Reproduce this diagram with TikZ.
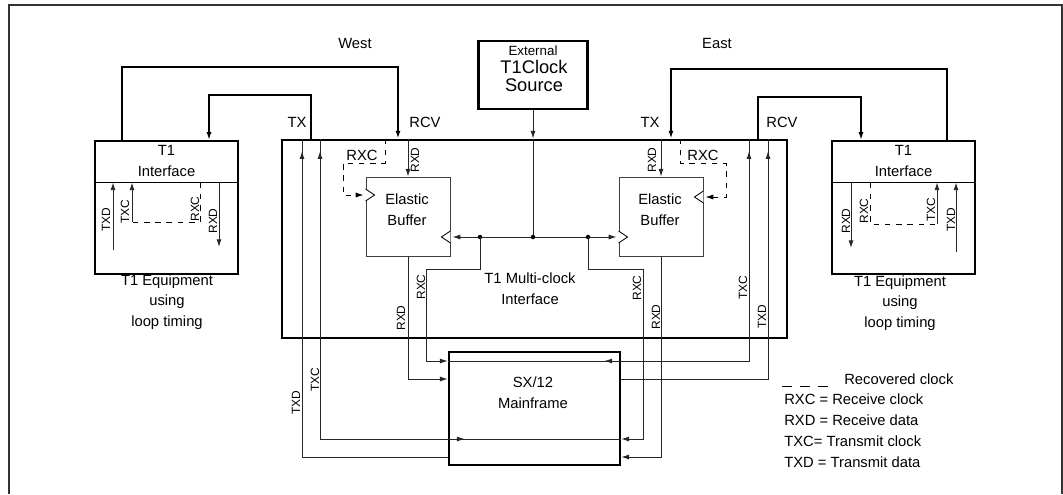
\documentclass[tikz,border=0pt]{standalone}
\usepackage{fontspec}
\setmainfont{Liberation Sans}
\usetikzlibrary{arrows.meta,decorations.markings}
\tikzset{
  lbl/.style={font=\fontsize{10.5}{14.8}\selectfont,align=center,inner sep=0pt},
  sig/.style={font=\fontsize{8.5}{10}\selectfont,rotate=90,inner sep=0pt},
  eqbox/.style={draw,line width=1.5pt,minimum width=3.575cm,minimum height=3.325cm,inner sep=0pt},
  mcibox/.style={draw,line width=2pt,minimum width=12.625cm,minimum height=4.95cm,inner sep=0pt},
  clkbox/.style={draw,line width=1.8pt,minimum width=2.725cm,minimum height=1.7cm,inner sep=0pt},
  ebbox/.style={draw,line width=0.6pt,black!75,minimum width=2.1cm,minimum height=1.975cm,inner sep=0pt},
  sxbox/.style={draw,line width=1.8pt,minimum width=4.275cm,minimum height=2.825cm,inner sep=0pt},
  outerframe/.style={line width=1.1pt,black!80},
  wire/.style={line width=0.7pt,black!85},
  loopw/.style={line width=1.3pt},
  rclk/.style={line width=0.6pt,dash pattern=on 4pt off 4pt},
  arw/.style={-{Latex[length=5.5pt,width=3.6pt]}},
  arrat/.style={postaction={decorate},decoration={markings,
    mark=at position #1 with {\arrow{Latex[length=5.5pt,width=3.6pt]}}}},
  trig/.style={line width=0.6pt,fill=white}
}
\begin{document}
\begin{tikzpicture}[x=0.025cm,y=-0.025cm]
  \useasboundingbox (0,0) rectangle (1063,494);
  \draw[outerframe] (9,494) |- (1062,5) -- (1062,494);

  % boxes
  \node[eqbox] (weq) at (166.5,207.5) {};
  \node[eqbox] (eeq) at (903.5,207.5) {};
  \node[mcibox] (mci) at (534.5,239) {};
  \node[clkbox] (clk) at (533,75) {};
  \node[ebbox] (ebw) at (408,216.5) {};
  \node[ebbox] (ebe) at (661,216.5) {};
  \node[sxbox] (sx) at (534.5,408.5) {};
  \coordinate (wdiv) at (0,182.5);
  \draw[line width=1.2pt] (weq.west |- wdiv) -- (weq.east |- wdiv);
  \draw[line width=1.2pt] (eeq.west |- wdiv) -- (eeq.east |- wdiv);

  % box texts
  \node[lbl] (weqtxt) at (166.5,161) {T1\\Interface};
  \node[lbl] (eeqtxt) at (903.5,161) {T1\\Interface};
  \node[lbl] (weqcap) at (167,302) {T1 Equipment\\using\\loop timing};
  \node[lbl] (eeqcap) at (900,303) {T1 Equipment\\using\\loop timing};
  \node[lbl] (mcitxt) at (530,289) {T1 Multi-clock\\Interface};
  \node[lbl] (ebwtxt) at (407,210) {Elastic\\Buffer};
  \node[lbl] (ebetxt) at (660,210) {Elastic\\Buffer};
  \node[lbl] (sxtxt) at (533,393) {SX/12\\Mainframe};
  \node[lbl,anchor=base,font=\fontsize{9.5}{11}\selectfont] (clka) at (533,55) {External};
  \node[lbl,anchor=base,font=\fontsize{13}{12}\selectfont] (clkb) at (534,73) {T1Clock};
  \node[lbl,anchor=base,font=\fontsize{13}{12}\selectfont] (clkc) at (534,91) {Source};
  \node[lbl] (west) at (355,43) {West};
  \node[lbl] (east) at (717,43) {East};

  % line loops to the T1 equipment
  \draw[loopw,arw] (weq.north -| 122,0) |- (398,67) -- (mci.north -| 398,0);
  \draw[loopw,arw] (mci.north -| 311,0) |- (209,95) -- (weq.north -| 209,0);
  \draw[loopw,arw] (eeq.north -| 947,0) |- (671,69) -- (mci.north -| 671,0);
  \draw[loopw,arw] (mci.north -| 758,0) |- (861,97) -- (eeq.north -| 861,0);
  \node[lbl] (wtx) at (297,122) {TX};
  \node[lbl] (wrcv) at (425,122) {RCV};
  \node[lbl] (etx) at (650,122) {TX};
  \node[lbl] (ercv) at (782,122) {RCV};

  % inside the T1 equipment
  \draw[wire,arw] (113,250) -- (wdiv -| 113,0);
  \draw[rclk] (wdiv -| 200,0) |- (132,222);
  \draw[wire,arw] (132,222) -- (wdiv -| 132,0);
  \draw[wire,arw] (wdiv -| 219,0) -- (219,247);
  \node[sig] (wtxd) at (106,220) {TXD};
  \node[sig] (wtxc) at (125,212) {TXC};
  \node[sig] (wrxc) at (195,209) {RXC};
  \node[sig] (wrxd) at (213,221) {RXD};
  \draw[wire,arw] (wdiv -| 851,0) -- (851,248);
  \draw[rclk] (wdiv -| 870,0) |- (937,224);
  \draw[wire,arw] (937,224) -- (wdiv -| 937,0);
  \draw[wire,arw] (956,252) -- (wdiv -| 956,0);
  \node[sig] (erxd) at (846,221) {RXD};
  \node[sig] (erxc) at (864,211) {RXC};
  \node[sig] (etxc) at (931,210) {TXC};
  \node[sig] (etxd) at (951,220) {TXD};

  % clock source and clock bus
  \coordinate (j1) at (480,237);
  \coordinate (j2) at (533,237);
  \coordinate (j3) at (588,237);
  \draw[wire,arw] (clk.south) -- (mci.north -| clk.south);
  \draw[wire] (mci.north -| j2) -- (j2);
  \draw[wire] (j1) -- (j3);
  \draw[wire,arw,shorten >=1.5pt] (j1) -- (ebw.east |- j1);
  \draw[wire,arw,shorten >=1.5pt] (j3) -- (ebe.west |- j3);
  \foreach \j in {j1,j2,j3} \fill (\j) circle (1.6pt);
  \draw[trig] (ebw.east |- j1) ++(0,-6) -- ++(-9,6) -- ++(9,6);
  \draw[trig] (ebe.west |- j3) ++(0,-6) -- ++(9,6) -- ++(-9,6);
  \draw[trig] (ebw.west |- 0,195) ++(0,-6) -- ++(9,6) -- ++(-9,6);
  \draw[trig] (ebe.east |- 0,197) ++(0,-6) -- ++(-9,6) -- ++(9,6);

  % receive side into the elastic buffers
  \draw[wire,arw] (mci.north -| ebw.north) -- (ebw.north);
  \draw[wire,arw] (mci.north -| ebe.north) -- (ebe.north);
  \draw[rclk,arw,shorten >=1.5pt] (mci.north -| 385,0) |- (343,163) |- (ebw.west |- 0,195);
  \draw[rclk,arw,shorten >=1.5pt] (mci.north -| 680,0) |- (726,163) |- (ebe.east |- 0,197);
  \node[sig] (brxdw) at (415,160) {RXD};
  \node[sig] (brxde) at (652,160) {RXD};
  \node[lbl,anchor=base] (brxcw) at (362,160.5) {RXC};
  \node[lbl,anchor=base] (brxce) at (703,160.5) {RXC};

  % to and from the SX/12
  \draw[wire,arw] (j1) |- (426,269) |- (sx.west |- 0,361);
  \draw[wire,arrat=-9pt] (sx.west |- 0,361) -- (749,361) -- (mci.north -| 749,0);
  \draw[wire,arw] (sx.east |- 0,361) ++(-1,0) -- ++(-16,0);
  \draw[wire,arw] (ebw.south) |- (sx.west |- 0,379);
  \draw[wire,arw] (j3) |- (643,269) |- (sx.east |- 0,439);
  \draw[wire,arrat=-9pt] (sx.east |- 0,439) -- (320,439) -- (mci.north -| 320,0);
  \draw[wire,arw] (sx.west |- 0,439) -- ++(17,0);
  \draw[wire,arw] (ebe.south) |- (sx.east |- 0,457);
  \draw[wire,arrat=-9pt] (sx.west |- 0,457) -| (mci.north -| 302,0);
  \draw[wire,arrat=-9pt] (sx.east |- 0,379) -| (mci.north -| 768,0);
  \node[sig] (srxcw) at (421,287) {RXC};
  \node[sig] (srxdw) at (401,318) {RXD};
  \node[sig] (srxce) at (637,288) {RXC};
  \node[sig] (srxde) at (656,317) {RXD};
  \node[sig] (stxce) at (743,288) {TXC};
  \node[sig] (stxde) at (762,317) {TXD};
  \node[sig] (stxcw) at (315,380) {TXC};
  \node[sig] (stxdw) at (296,403) {TXD};

  % legend
  \draw[rclk,dash pattern=on 7pt off 5.8pt] (782,386) -- (829,386);
  \node[lbl,anchor=base west] (lgrc) at (844,384) {Recovered clock};
  \node[lbl,anchor=base west] (lga) at (784,404) {RXC = Receive clock};
  \node[lbl,anchor=base west] (lgb) at (784,425) {RXD = Receive data};
  \node[lbl,anchor=base west] (lgc) at (784,446) {TXC= Transmit clock};
  \node[lbl,anchor=base west] (lgd) at (784,467) {TXD = Transmit data};
\end{tikzpicture}
\end{document}
